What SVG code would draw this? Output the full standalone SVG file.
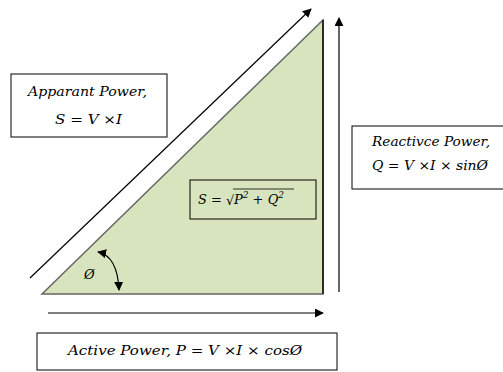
<svg xmlns="http://www.w3.org/2000/svg" width="503" height="372" viewBox="0 0 503 372">
<style>
.t{font-family:"DejaVu Serif","Liberation Serif",serif;font-style:italic;font-size:13px;fill:#000}
.box{fill:#fff;stroke:#000;stroke-width:1}
.ln{stroke:#000;stroke-width:1.2;fill:none}
</style>
<defs>
<marker id="ah" viewBox="0 0 10 10" refX="9" refY="5" markerWidth="9" markerHeight="9" markerUnits="userSpaceOnUse" orient="auto">
<path d="M0,0 L10,5 L0,10 z" fill="#000"/>
</marker>
<marker id="ahs" viewBox="0 0 10 10" refX="1" refY="5" markerWidth="9" markerHeight="9" markerUnits="userSpaceOnUse" orient="auto">
<path d="M10,0 L0,5 L10,10 z" fill="#000"/>
</marker>
</defs>
<rect width="503" height="372" fill="#fff"/>
<g id="triangle">
<polygon points="42,294 323,20 323,294" fill="#d7e4bd" stroke="#666" stroke-width="1.5"/>
<line x1="323" y1="20" x2="323" y2="294" stroke="#222" stroke-width="1.8"/>
</g>
<g id="connectors">
<line class="ln" x1="30" y1="278" x2="311" y2="9" marker-end="url(#ah)"/>
<line class="ln" x1="339" y1="292" x2="339" y2="18" marker-end="url(#ah)"/>
<line class="ln" x1="48" y1="313" x2="323" y2="313" marker-end="url(#ah)"/>
<path class="ln" d="M98,252 C112,255 118,268 119,290" marker-start="url(#ahs)" marker-end="url(#ah)"/>
</g>
<g id="phi"><text class="t" x="84" y="279">Ø</text></g>
<g id="apparent">
<rect class="box" x="11" y="74" width="156" height="63"/>
<text class="t" x="28" y="96" textLength="119" lengthAdjust="spacingAndGlyphs">Apparant Power,</text>
<text class="t" x="55" y="124" textLength="67" lengthAdjust="spacingAndGlyphs">S = V  ×I</text>
</g>
<g id="reactive">
<rect class="box" x="352" y="126" width="160" height="63"/>
<text class="t" x="372" y="146" textLength="118" lengthAdjust="spacingAndGlyphs">Reactivce Power,</text>
<text class="t" x="372" y="170" textLength="116" lengthAdjust="spacingAndGlyphs">Q = V  ×I × sinØ</text>
</g>
<g id="formula">
<rect x="190" y="180" width="126" height="39" fill="none" stroke="#000" stroke-width="1"/>
<text class="t" x="198" y="204">S = </text>
<text class="t" x="226" y="205" style="font-style:normal">√</text>
<line x1="233" y1="189" x2="294" y2="189" stroke="#000" stroke-width="0.8"/>
<text class="t" x="234" y="204">P<tspan font-size="9" dy="-6">2</tspan><tspan dy="6"> + Q</tspan><tspan font-size="9" dy="-6">2</tspan></text>
</g>
<g id="active">
<rect class="box" x="37" y="333" width="300" height="37"/>
<text class="t" x="68" y="355" textLength="234" lengthAdjust="spacingAndGlyphs">Active Power,  P = V  ×I × cosØ</text>
</g>
</svg>
